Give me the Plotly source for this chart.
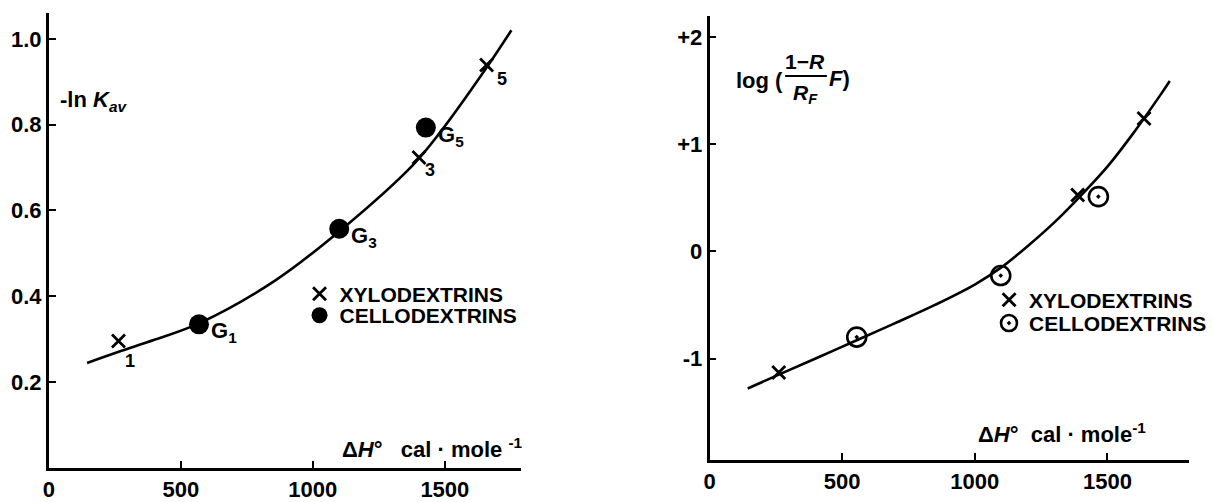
import plotly.graph_objects as go

W, H = 1212, 502

# ---------------- data ----------------
# Left panel: -ln K_av vs dH
left_xylo_dh = [264, 1402, 1658]
left_xylo_val = [0.295, 0.723, 0.939]
left_xylo_sub = ["1", "3", "5"]
left_cello_dh = [569, 1100, 1428]
left_cello_val = [0.334, 0.557, 0.793]
left_cello_lab = ["G<sub>1</sub>", "G<sub>3</sub>", "G<sub>5</sub>"]
left_curve_dh = [145, 265, 400, 571, 854, 1102, 1378, 1480, 1655, 1752]
left_curve_val = [0.244, 0.270, 0.298, 0.337, 0.435, 0.552, 0.705, 0.780, 0.930, 1.020]

# Right panel: log((1-RF)/RF) vs dH
right_xylo_dh = [261, 1388, 1638]
right_xylo_val = [-1.13, 0.526, 1.24]
right_cello_dh = [555, 1098, 1466]
right_cello_val = [-0.80, -0.226, 0.511]
right_curve_dh = [144, 261, 400, 555, 700, 850, 1000, 1100, 1200, 1300, 1400, 1500, 1600, 1700, 1735]
right_curve_val = [-1.28, -1.15, -1.00, -0.83, -0.67, -0.50, -0.31, -0.15, 0.05, 0.27, 0.52,
                   0.79, 1.11, 1.46, 1.59]

left_yticks = [0.2, 0.4, 0.6, 0.8, 1.0]
left_yticklabels = ["0.2", "0.4", "0.6", "0.8", "1.0"]
right_yticks = [-1, 0, 1, 2]
right_yticklabels = ["-1", "0", "+1", "+2"]
xticks = [0, 500, 1000, 1500]
xticklabels = ["0", "500", "1000", "1500"]

# ---------------- helpers ----------------
def px(x):
    return x / W

def py(y):
    return (H - y) / H

FONT = "Liberation Sans, Arial, sans-serif"
BLACK = "#000000"

def b(s):
    return "<b>" + s + "</b>"

fig = go.Figure()

# Left panel
fig.add_trace(go.Scatter(x=left_curve_dh, y=left_curve_val, mode="lines",
                         line=dict(color=BLACK, width=2.6, shape="spline", smoothing=1.0),
                         showlegend=False, hoverinfo="skip", xaxis="x", yaxis="y"))
fig.add_trace(go.Scatter(x=left_xylo_dh, y=left_xylo_val, mode="markers", name=b("XYLODEXTRINS"),
                         marker=dict(symbol="x-thin-open", size=13, color=BLACK,
                                     line=dict(color=BLACK, width=2.8)),
                         legend="legend", xaxis="x", yaxis="y"))
fig.add_trace(go.Scatter(x=left_cello_dh, y=left_cello_val, mode="markers", name=b("CELLODEXTRINS"),
                         marker=dict(symbol="circle", size=20, color=BLACK),
                         legend="legend2", xaxis="x", yaxis="y"))

# Right panel
fig.add_trace(go.Scatter(x=right_curve_dh, y=right_curve_val, mode="lines",
                         line=dict(color=BLACK, width=2.6, shape="spline", smoothing=1.0),
                         showlegend=False, hoverinfo="skip", xaxis="x2", yaxis="y2"))
fig.add_trace(go.Scatter(x=right_xylo_dh, y=right_xylo_val, mode="markers", name=b("XYLODEXTRINS"),
                         marker=dict(symbol="x-thin-open", size=13, color=BLACK,
                                     line=dict(color=BLACK, width=2.8)),
                         legend="legend3", xaxis="x2", yaxis="y2"))
fig.add_trace(go.Scatter(x=right_cello_dh, y=right_cello_val, mode="markers", name=b("CELLODEXTRINS"),
                         marker=dict(symbol="circle-open-dot", size=19, color=BLACK,
                                     line=dict(color=BLACK, width=2.6)),
                         legend="legend4", xaxis="x2", yaxis="y2"))

axis_common = dict(showgrid=False, zeroline=False, showline=True, linecolor=BLACK, linewidth=2.6,
                   ticks="inside", ticklen=7, tickwidth=2, tickcolor=BLACK,
                   tickfont=dict(family=FONT, size=22, color=BLACK, weight="bold"), mirror=False)

fig.update_layout(
    width=W, height=H,
    margin=dict(l=0, r=0, t=0, b=0),
    paper_bgcolor="white", plot_bgcolor="rgba(0,0,0,0)",
    xaxis=dict(domain=[px(43), px(518)], range=[0, 1790], anchor="y",
               tickvals=xticks, ticktext=xticklabels, **axis_common),
    yaxis=dict(domain=[py(480), py(13)], range=[0, 1.061], anchor="x",
               tickvals=left_yticks, ticktext=left_yticklabels, **axis_common),
    xaxis2=dict(domain=[px(707), px(1189)], range=[0, 1808], anchor="y2",
                tickvals=xticks, ticktext=xticklabels, **axis_common),
    yaxis2=dict(domain=[py(472), py(16)], range=[-1.945, 2.2], anchor="x2",
                tickvals=right_yticks, ticktext=right_yticklabels, **axis_common),
    showlegend=True,
)

leg_common = dict(bgcolor="rgba(0,0,0,0)", borderwidth=0, itemwidth=30,
                  font=dict(family=FONT, size=21, color=BLACK),
                  xanchor="left", yanchor="middle", itemclick=False, itemdoubleclick=False)
fig.update_layout(
    legend=dict(x=px(295), y=py(302), **leg_common),
    legend2=dict(x=px(295), y=py(324), **leg_common),
    legend3=dict(x=px(988), y=py(308), **leg_common),
    legend4=dict(x=px(988), y=py(332), **leg_common),
)

ann = []
# subscripts on left xylodextrin points
sub_shift = [(12, -20), (11, -12), (15, -14)]
for xv, yv, s, (dx, dy) in zip(left_xylo_dh, left_xylo_val, left_xylo_sub, sub_shift):
    ann.append(dict(x=xv, y=yv, xref="x", yref="y", text=b(s), showarrow=False,
                    xshift=dx, yshift=dy, font=dict(family=FONT, size=18, color=BLACK)))
# G labels on left cellodextrin points
for xv, yv, s in zip(left_cello_dh, left_cello_val, left_cello_lab):
    ann.append(dict(x=xv, y=yv, xref="x", yref="y", text=b(s), showarrow=False,
                    xanchor="left", xshift=10, yshift=-8,
                    font=dict(family=FONT, size=22, color=BLACK)))

# Left axis texts
ann.append(dict(x=px(52), y=py(104), xref="paper", yref="paper", xanchor="left", yanchor="middle",
                text=b("-ln <i>K</i><sub><i>av</i></sub>"), showarrow=False,
                font=dict(family=FONT, size=22, color=BLACK)))
ann.append(dict(x=px(336), y=py(460), xref="paper", yref="paper", xanchor="left", yanchor="middle",
                text=b("Δ<i>H</i>°&nbsp;&nbsp; cal · mole&nbsp;<sup>-1</sup>"), showarrow=False,
                font=dict(family=FONT, size=22, color=BLACK)))

# Right axis texts
ann.append(dict(x=px(975), y=py(444), xref="paper", yref="paper", xanchor="left", yanchor="middle",
                text=b("Δ<i>H</i>°&nbsp; cal · mole<sup>-1</sup>"), showarrow=False,
                font=dict(family=FONT, size=22, color=BLACK)))
ann.append(dict(x=px(732), y=py(83), xref="paper", yref="paper", xanchor="left", yanchor="middle",
                text=b("log ("), showarrow=False, font=dict(family=FONT, size=22, color=BLACK)))
ann.append(dict(x=px(803), y=py(63), xref="paper", yref="paper", xanchor="center", yanchor="middle",
                text=b("1−<i>R</i>"), showarrow=False, font=dict(family=FONT, size=21, color=BLACK)))
ann.append(dict(x=px(803), y=py(96), xref="paper", yref="paper", xanchor="center", yanchor="middle",
                text=b("<i>R</i><sub><i>F</i></sub>"), showarrow=False,
                font=dict(family=FONT, size=21, color=BLACK)))
ann.append(dict(x=px(825), y=py(81), xref="paper", yref="paper", xanchor="left", yanchor="middle",
                text=b("<i>F</i>)"), showarrow=False, font=dict(family=FONT, size=22, color=BLACK)))

fig.update_layout(annotations=ann)
fig.add_shape(type="line", xref="paper", yref="paper", x0=px(783), x1=px(825), y0=py(78), y1=py(78),
              line=dict(color=BLACK, width=2))

fig.write_html("out.html")
